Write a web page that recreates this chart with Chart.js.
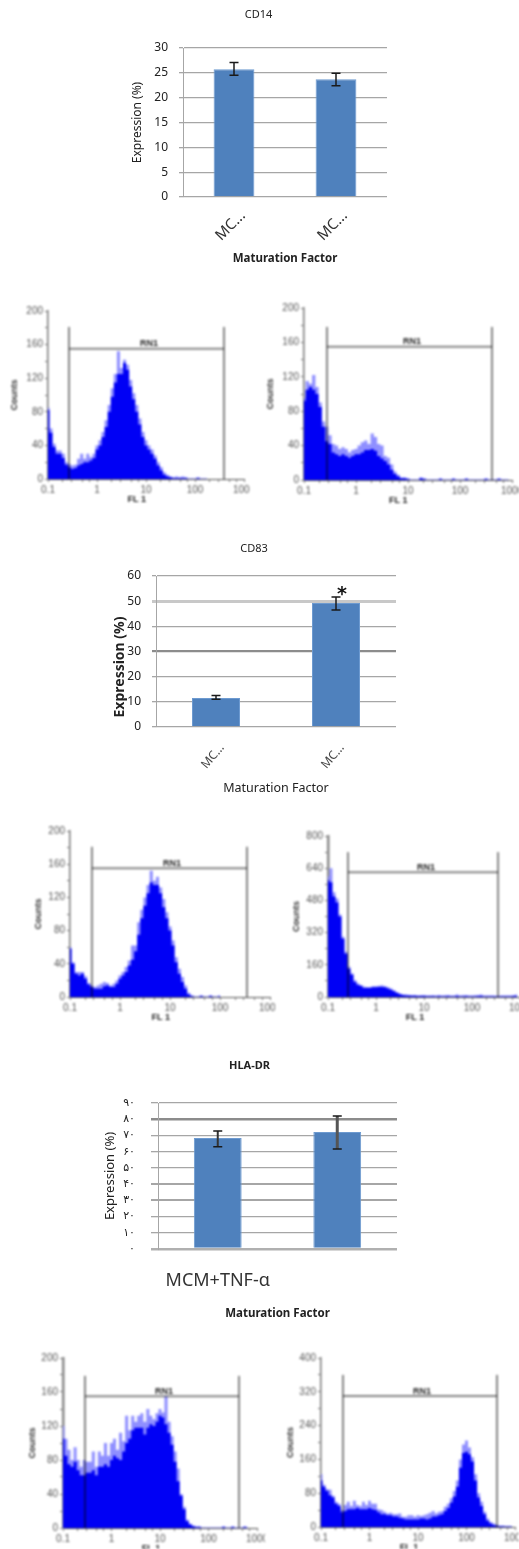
<!DOCTYPE html>
<html>
<head>
<meta charset="utf-8">
<title>Expression charts</title>
<script src="https://cdn.jsdelivr.net/npm/chart.js@4"></script>
<style>
html,body{margin:0;padding:0;background:#fff;width:519px;height:1549px;overflow:hidden;position:relative}
canvas{position:absolute;display:block}
canvas.bar{filter:blur(.5px)}
canvas.hist{filter:blur(.9px)}
</style>
</head>
<body>
<script>
// bar chart values
var cd14Labels = ['MC...', 'MC...'];
var cd14Values = [25.7, 23.7];
var cd14Low = [24.5, 22.4];
var cd14High = [27.1, 24.9];
var cd14Ticks = ['0', '5', '10', '15', '20', '25', '30'];

var cd83Labels = ['MC...', 'MC...'];
var cd83Values = [11.5, 49.3];
var cd83Low = [11, 46.5];
var cd83High = [12.5, 51.7];
var cd83Ticks = ['0', '10', '20', '30', '40', '50', '60'];

var hlaLabels = ['MCM+TNF-α', ''];
var hlaValues = [68.4, 72.2];
var hlaLow = [63, 61.7];
var hlaHigh = [72.8, 82];
var hlaTicks = ['۰', '۱۰', '۲۰', '۳۰', '۴۰', '۵۰', '۶۰', '۷۰', '۸۰', '۹۰'];

// histogram channels (FL 1), shared by all six panels
var flBins = [0.1, 0.115, 0.133, 0.154, 0.178, 0.205, 0.237, 0.274, 0.316, 0.365, 0.422, 0.487, 0.562, 0.649, 0.75, 0.866,
  1, 1.15, 1.33, 1.54, 1.78, 2.05, 2.37, 2.74, 3.16, 3.65, 4.22, 4.87, 5.62, 6.49, 7.5, 8.66,
  10, 11.5, 13.3, 15.4, 17.8, 20.5, 23.7, 27.4, 31.6, 36.5, 42.2, 48.7, 56.2, 64.9, 75, 86.6,
  100, 115, 133, 154, 178, 205, 237, 274, 316, 365, 422, 487, 562, 649, 750, 866, 1000];
var flTicks = [0.1, 1, 10, 100, 1000];
var flMarks = [0.1, 0.2, 0.3, 0.5, 0.7, 1, 2, 3, 5, 7, 10, 20, 30, 50, 70, 100, 200, 300, 500, 700, 1000];

var hist1Core = [82, 55, 38, 30, 30, 25, 17, 14, 12, 13, 16, 18, 20, 20, 22, 25, 35, 40, 50, 62, 80, 98, 115, 125, 125, 138, 130, 110, 95, 80, 65, 50, 40, 35, 30, 24, 16, 10, 5, 3, 2, 1, 1, 1, 1, 1, 0, 0, 0, 1, 0, 0, 0];
var hist1Peak = [85, 60, 42, 34, 34, 30, 20, 18, 16, 17, 24, 30, 24, 30, 26, 30, 40, 46, 56, 70, 88, 108, 125, 152, 132, 142, 136, 118, 102, 88, 72, 56, 46, 40, 35, 28, 20, 14, 8, 5, 3, 2, 3, 2, 3, 2, 1, 1, 1, 2, 1, 1, 1];

var hist2Core = [92, 105, 108, 105, 100, 85, 62, 45, 42, 32, 30, 28, 30, 28, 26, 28, 30, 30, 32, 35, 35, 36, 34, 28, 25, 22, 18, 12, 7, 4, 2, 2, 1, 0, 0, 0, 2, 1, 0, 0, 0, 0, 1, 0, 0, 0, 1, 0, 0, 0, 1, 0, 0, 0, 0, 0, 1, 0, 0, 0, 1, 0, 0, 0];
var hist2Peak = [95, 115, 112, 122, 108, 90, 68, 62, 52, 42, 40, 36, 38, 36, 32, 35, 36, 40, 44, 46, 42, 54, 50, 42, 40, 28, 26, 18, 10, 6, 3, 3, 2, 1, 1, 1, 3, 2, 1, 1, 1, 1, 2, 1, 1, 1, 2, 1, 1, 1, 2, 1, 1, 1, 1, 1, 2, 1, 1, 1, 2, 1, 1, 1];

var hist3Core = [58, 40, 28, 26, 28, 22, 15, 12, 10, 10, 10, 13, 14, 12, 12, 16, 22, 26, 30, 38, 45, 55, 75, 95, 110, 125, 138, 135, 135, 125, 108, 95, 80, 62, 42, 28, 18, 10, 3, 1, 0, 0, 1, 0, 0, 1, 0, 0, 1];
var hist3Peak = [60, 42, 30, 30, 30, 25, 17, 14, 12, 14, 16, 18, 17, 14, 16, 20, 26, 30, 36, 44, 62, 62, 90, 105, 120, 135, 152, 140, 145, 132, 118, 102, 85, 68, 48, 34, 24, 14, 5, 2, 1, 1, 2, 1, 1, 2, 1, 1, 2];

var hist4Core = [580, 570, 500, 470, 400, 290, 215, 140, 110, 75, 60, 55, 45, 45, 45, 48, 48, 50, 50, 48, 42, 36, 28, 20, 14, 10, 8, 7, 6, 6, 5, 5, 5, 4, 4, 4, 3, 4, 3, 3, 4, 3, 3, 5, 3, 3, 4, 3, 3, 3, 4, 5, 3, 3, 3, 3, 2, 2, 3, 3, 3, 3, 4, 6];
var hist4Peak = [600, 640, 520, 490, 410, 300, 225, 150, 118, 85, 68, 60, 52, 50, 50, 54, 54, 56, 58, 54, 48, 42, 33, 25, 18, 13, 12, 10, 9, 10, 8, 9, 10, 8, 8, 9, 8, 10, 8, 9, 10, 8, 8, 12, 8, 9, 10, 8, 8, 9, 10, 12, 8, 8, 8, 7, 6, 6, 7, 8, 8, 8, 10, 12];

var hist5Core = [105, 85, 75, 72, 78, 68, 62, 62, 65, 65, 68, 62, 72, 72, 75, 72, 80, 85, 82, 80, 90, 100, 105, 115, 118, 118, 118, 110, 118, 122, 120, 125, 132, 130, 122, 112, 98, 78, 55, 38, 22, 8, 4, 2, 1, 1, 0, 0, 0, 0, 0, 0, 0, 1, 0, 0, 1, 0, 0, 0, 1, 0];
var hist5Peak = [120, 105, 92, 80, 95, 80, 72, 80, 78, 78, 90, 72, 90, 85, 100, 85, 100, 105, 92, 112, 102, 132, 115, 132, 125, 132, 135, 125, 140, 132, 128, 135, 140, 136, 155, 125, 108, 90, 70, 40, 25, 10, 5, 3, 2, 2, 1, 1, 1, 1, 1, 1, 1, 2, 1, 1, 2, 1, 1, 1, 2, 1];

var hist6Core = [110, 95, 85, 75, 70, 55, 50, 35, 38, 42, 42, 42, 45, 42, 42, 42, 45, 42, 40, 35, 30, 30, 28, 28, 25, 25, 22, 20, 18, 18, 18, 18, 18, 20, 20, 18, 20, 25, 25, 28, 30, 38, 45, 58, 72, 95, 140, 175, 178, 172, 155, 110, 70, 50, 30, 15, 8, 5, 3, 2, 2, 1, 1, 1];
var hist6Peak = [125, 100, 90, 88, 74, 60, 55, 40, 52, 60, 50, 62, 52, 50, 60, 52, 62, 55, 55, 42, 40, 36, 32, 34, 30, 30, 32, 24, 24, 28, 28, 24, 28, 26, 28, 30, 34, 38, 32, 36, 38, 48, 55, 68, 85, 110, 160, 195, 205, 188, 165, 125, 80, 60, 36, 20, 12, 8, 5, 3, 3, 2, 2, 2];

var barColor = '#4f81bd';
var gridColor = '#a6a6a6';
var barFont = '"Noto Sans", sans-serif';
var histFont = '"Liberation Sans", sans-serif';

function addCanvas(cls, left, top, width, height) {
  var c = document.createElement('canvas');
  c.className = cls;
  c.width = width;
  c.height = height;
  c.style.left = left + 'px';
  c.style.top = top + 'px';
  c.style.width = width + 'px';
  c.style.height = height + 'px';
  document.body.appendChild(c);
  return c;
}

function barPanel(p) {
  var width = p.right - p.left;
  var height = p.bottom - p.top;
  var titleLine = p.titleSize * 1.2;
  var titleTop = p.titleY - p.top - titleLine / 2;
  var c = addCanvas('bar', p.left, p.top, width, height);
  var errorBars = {
    id: 'errorBars',
    afterDatasetsDraw: function(chart) {
      var ctx = chart.ctx, y = chart.scales.y, x = chart.scales.x;
      ctx.save();
      p.values.forEach(function(v, i) {
        var cx = x.getPixelForValue(i);
        var yl = y.getPixelForValue(p.low[i]);
        var yh = y.getPixelForValue(p.high[i]);
        ctx.strokeStyle = p.errColors ? p.errColors[i] : '#1a1a1a';
        ctx.lineWidth = p.errWidths ? p.errWidths[i] : 1.5;
        ctx.beginPath();
        ctx.moveTo(cx, yl); ctx.lineTo(cx, yh);
        ctx.stroke();
        ctx.strokeStyle = '#1a1a1a';
        ctx.lineWidth = 1.5;
        ctx.beginPath();
        ctx.moveTo(cx - 4.5, yl); ctx.lineTo(cx + 4.5, yl);
        ctx.moveTo(cx - 4.5, yh); ctx.lineTo(cx + 4.5, yh);
        ctx.stroke();
      });
      if (p.star) {
        ctx.fillStyle = '#111';
        ctx.font = 'bold 19px "DejaVu Sans", sans-serif';
        ctx.textAlign = 'center';
        ctx.textBaseline = 'middle';
        ctx.fillText(p.star.text, x.getPixelForValue(p.star.index) + 6, y.getPixelForValue(p.star.value) + 9);
      }
      if (p.yTitleY) {
        ctx.fillStyle = '#222';
        ctx.font = p.yTitleWeight + ' ' + p.yTitleSize + 'px ' + barFont;
        ctx.textAlign = 'center';
        ctx.textBaseline = 'middle';
        ctx.translate(p.yTitleSize * 0.6, p.yTitleY - p.top);
        ctx.rotate(-Math.PI / 2);
        ctx.fillText('Expression (%)', 0, 0);
      }
      ctx.restore();
    }
  };
  new Chart(c, {
    type: 'bar',
    data: {
      labels: p.labels,
      datasets: [{ data: p.values, backgroundColor: barColor, borderColor: '#6d9ad0', borderWidth: 1, borderSkipped: 'bottom', barPercentage: 0.8, categoryPercentage: 0.5 }]
    },
    plugins: [errorBars],
    options: {
      responsive: false,
      animation: false,
      devicePixelRatio: 1,
      layout: { padding: { top: 0, left: 0, bottom: 0, right: p.right - p.plotRight } },
      plugins: {
        legend: { display: false },
        tooltip: { enabled: false },
        title: {
          display: true,
          text: p.title,
          color: '#222',
          font: { family: barFont, size: p.titleSize, weight: p.titleWeight },
          padding: { top: titleTop, bottom: p.plotTop - p.top - titleLine - titleTop }
        }
      },
      scales: {
        x: {
          grid: { display: false },
          border: { display: false },
          afterFit: function(s) { s.height = p.bottom - p.plotBottom; },
          ticks: {
            autoSkip: false,
            maxRotation: p.labelRotation,
            minRotation: p.labelRotation,
            padding: p.labelPadding,
            labelOffset: p.labelOffset,
            color: p.labelColor,
            font: { family: barFont, size: p.labelSize }
          },
          title: {
            display: true,
            text: 'Maturation Factor',
            color: '#222',
            padding: 0,
            font: { family: barFont, size: p.xTitleSize, weight: p.xTitleWeight }
          }
        },
        y: {
          min: 0,
          max: p.max,
          border: { color: gridColor, width: 1 },
          afterFit: function(s) { s.width = p.plotLeft - p.left; },
          grid: {
            color: function(ctx) { return p.thickColors && p.thickColors[ctx.tick.value] || gridColor; },
            lineWidth: function(ctx) { return p.thick && p.thick[ctx.tick.value] || 1.3; },
            tickLength: p.tickLength
          },
          ticks: {
            stepSize: p.step,
            padding: p.tickPadding,
            color: '#222',
            font: { family: p.tickFamily || barFont, size: p.tickSize },
            callback: function(v, i) { return p.ticks[i]; }
          },
          title: {
            display: !p.yTitleY,
            text: 'Expression (%)',
            color: '#222',
            padding: 0,
            font: { family: barFont, size: p.yTitleSize, weight: p.yTitleWeight }
          }
        }
      }
    }
  });
}

function histPanel(p) {
  var c = addCanvas('hist', p.left, p.top, p.right - p.left, p.bottom - p.top);
  function pts(arr) { return arr.map(function(v, i) { return { x: flBins[i], y: v }; }); }
  function gateLine(a, b) {
    return { data: [a, b], showLine: true, pointRadius: 0, borderColor: 'rgba(0,0,0,.48)', borderWidth: 2, fill: false, order: 0 };
  }
  var texts = {
    id: 'histTexts',
    afterDraw: function(chart) {
      var ctx = chart.ctx, x = chart.scales.x, y = chart.scales.y;
      ctx.save();
      ctx.textAlign = 'center';
      ctx.textBaseline = 'middle';
      ctx.fillStyle = '#222';
      ctx.font = 'bold 9px ' + histFont;
      ctx.fillText('RN1', p.gateLabelX, y.getPixelForValue(p.gateY) - 5);
      ctx.fillText('FL 1', x.getPixelForValue(6.5), y.bottom + 21);
      ctx.restore();
    }
  };
  new Chart(c, {
    type: 'scatter',
    data: {
      datasets: [
        gateLine({ x: p.gateFrom, y: 0 }, { x: p.gateFrom, y: p.gateTop }),
        gateLine({ x: p.gateTo, y: 0 }, { x: p.gateTo, y: p.gateTop }),
        gateLine({ x: p.gateFrom, y: p.gateY }, { x: p.gateTo, y: p.gateY }),
        { data: pts(p.core), showLine: true, stepped: 'middle', pointRadius: 0, borderWidth: 0, backgroundColor: '#0000f5', fill: 'origin', order: 1 },
        { data: pts(p.peak), showLine: true, stepped: 'middle', pointRadius: 0, borderWidth: 0, backgroundColor: '#8f8fff', fill: 'origin', order: 2 }
      ]
    },
    plugins: [texts],
    options: {
      responsive: false,
      animation: false,
      devicePixelRatio: 1,
      layout: { autoPadding: false, padding: { top: p.plotTop - p.top, left: 0, bottom: 0, right: p.right - p.plotRight } },
      plugins: { legend: { display: false }, tooltip: { enabled: false } },
      scales: {
        x: {
          type: 'logarithmic',
          min: 0.1,
          max: 1000,
          border: { color: '#555', width: 1 },
          grid: { drawOnChartArea: false, tickLength: 3, color: '#777' },
          afterFit: function(s) {
            s.height = p.bottom - p.plotBottom;
            s.paddingLeft = 0;
            s.paddingRight = 0;
          },
          afterBuildTicks: function(s) { s.ticks = flMarks.map(function(v) { return { value: v }; }); },
          ticks: {
            autoSkip: false,
            maxRotation: 0,
            padding: 2,
            color: '#555',
            font: { family: histFont, size: 10 },
            callback: function(v) { return flTicks.indexOf(v) >= 0 ? String(v) : ''; }
          }
        },
        y: {
          min: 0,
          max: p.max,
          border: { color: p.axisColor || '#777', width: p.axisWidth || 1.5 },
          grid: { drawOnChartArea: false, tickLength: 3, color: '#777' },
          afterFit: function(s) { s.width = p.plotLeft - p.left; },
          ticks: {
            stepSize: p.max / 10,
            autoSkip: false,
            padding: 2,
            color: '#555',
            font: { family: histFont, size: 10 },
            callback: function(v, i) { return i % 2 === 0 ? String(v) : ''; }
          },
          title: { display: true, text: 'Counts', color: '#333', padding: 0, font: { family: histFont, size: 9, weight: 'bold' } }
        }
      }
    }
  });
}

barPanel({
  title: 'CD14', labels: cd14Labels, values: cd14Values, low: cd14Low, high: cd14High, ticks: cd14Ticks, max: 30, step: 5,
  left: 130, right: 412, top: 0, bottom: 266, plotLeft: 183, plotRight: 387, plotTop: 48, plotBottom: 197,
  titleY: 15, titleSize: 11, titleWeight: 'normal', xTitleSize: 11.5, xTitleWeight: 'bold', yTitleSize: 12, yTitleWeight: 'normal',
  tickSize: 12, tickLength: 4, tickPadding: 11, labelSize: 15, labelColor: '#333', labelRotation: 45, labelPadding: 2, labelOffset: 9
});
histPanel({ core: hist1Core, peak: hist1Peak, max: 200, gateFrom: 0.268, gateTo: 391, gateTop: 181, gateY: 155, gateLabelX: 140,
  left: 9, right: 250, top: 303, bottom: 510, plotLeft: 48, plotRight: 244, plotTop: 311, plotBottom: 479 });
histPanel({ core: hist2Core, peak: hist2Peak, max: 200, gateFrom: 0.277, gateTo: 412, gateTop: 178, gateY: 155, gateLabelX: 147,
  left: 265, right: 519, top: 300, bottom: 510, plotLeft: 304, plotRight: 512, plotTop: 308, plotBottom: 480 });

barPanel({
  title: 'CD83', labels: cd83Labels, values: cd83Values, low: cd83Low, high: cd83High, ticks: cd83Ticks, max: 60, step: 10,
  left: 112, right: 414, top: 530, bottom: 796, plotLeft: 156, plotRight: 396, plotTop: 576, plotBottom: 727,
  titleY: 549, titleSize: 11, titleWeight: 'normal', xTitleSize: 12.5, xTitleWeight: 'normal', yTitleSize: 14, yTitleWeight: 'bold', yTitleY: 667,
  tickSize: 12, tickLength: 4, tickPadding: 11, labelSize: 12, labelColor: '#444', labelRotation: 50, labelPadding: 6, labelOffset: 6,
  thick: { 30: 2.2, 50: 3 }, thickColors: { 30: '#8c8c8c', 50: '#c8c8c8' },
  star: { text: '*', index: 1, value: 56 }
});
histPanel({ core: hist3Core, peak: hist3Peak, max: 200, gateFrom: 0.275, gateTo: 347, gateTop: 181, gateY: 155, gateLabelX: 139,
  left: 33, right: 275, top: 823, bottom: 1030, plotLeft: 70, plotRight: 270, plotTop: 831, plotBottom: 997 });
histPanel({ core: hist4Core, peak: hist4Peak, max: 800, axisColor: '#888', axisWidth: 2.5, gateFrom: 0.261, gateTo: 349, gateTop: 720, gateY: 620, gateLabelX: 135,
  left: 291, right: 526, top: 828, bottom: 1030, plotLeft: 328, plotRight: 520, plotTop: 836, plotBottom: 997 });

barPanel({
  title: 'HLA-DR', labels: hlaLabels, values: hlaValues, low: hlaLow, high: hlaHigh, ticks: hlaTicks, max: 90, step: 10,
  left: 102, right: 432, top: 1050, bottom: 1321, plotLeft: 158, plotRight: 397, plotTop: 1103, plotBottom: 1249,
  titleY: 1066, titleSize: 11, titleWeight: 'bold', xTitleSize: 11.5, xTitleWeight: 'bold', yTitleSize: 13, yTitleWeight: 'normal',
  tickSize: 11, tickFamily: '"DejaVu Sans", sans-serif', tickLength: 7, tickPadding: 16, labelSize: 18, labelColor: '#333', labelRotation: 0, labelPadding: 13, labelOffset: 0,
  thick: { 0: 2.5, 30: 2, 40: 2, 80: 2.5 }, thickColors: { 0: '#b0b0b0', 80: '#8c8c8c' },
  errColors: ['#333', '#555'], errWidths: [2, 3]
});
histPanel({ core: hist5Core, peak: hist5Peak, max: 200, axisColor: '#888', axisWidth: 2.5, gateFrom: 0.284, gateTo: 425, gateTop: 179, gateY: 155, gateLabelX: 137,
  left: 27, right: 265, top: 1350, bottom: 1549, plotLeft: 63, plotRight: 257, plotTop: 1358, plotBottom: 1528 });
histPanel({ core: hist6Core, peak: hist6Peak, max: 400, gateFrom: 0.284, gateTo: 425, gateTop: 360, gateY: 310, gateLabelX: 137,
  left: 285, right: 519, top: 1350, bottom: 1549, plotLeft: 321, plotRight: 515, plotTop: 1358, plotBottom: 1527 });
</script>
</body>
</html>
